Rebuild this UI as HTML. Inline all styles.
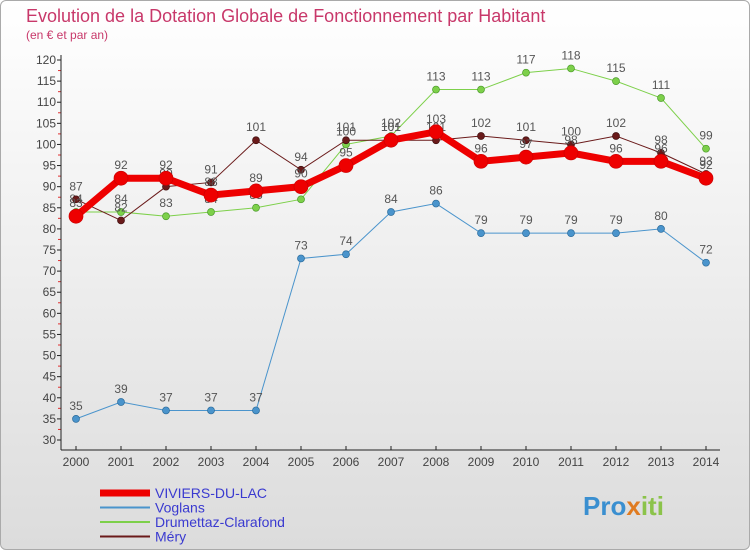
<!DOCTYPE html>
<html><head><meta charset="utf-8"><style>
body{margin:0;width:750px;height:550px;overflow:hidden;font-family:"Liberation Sans",sans-serif}
#wrap{position:absolute;left:0;top:0;width:748px;height:548px;border:1px solid #aaa;border-radius:6px;background:linear-gradient(#fff,#dcdcdc)}
</style></head><body>
<div id="wrap"></div>
<svg id="c" width="750" height="550" style="position:absolute;left:0;top:0">
<text x="26" y="22" font-size="18" fill="#c8386a">Evolution de la Dotation Globale de Fonctionnement par Habitant</text>
<text x="26" y="39" font-size="12" fill="#c8386a">(en € et par an)</text>
<g id="grid"></g><g id="series"></g><g id="legend"></g>
<text x="583" y="515" font-size="26" font-weight="bold" fill="#3a8fd0">Pro<tspan fill="#e07b20">x</tspan><tspan fill="#8bc34a">iti</tspan></text>
</svg>
<script>
const years=[2000,2001,2002,2003,2004,2005,2006,2007,2008,2009,2010,2011,2012,2013,2014];
const viviers=[83,92,92,88,89,90,95,101,103,96,97,98,96,96,92];
const voglans=[35,39,37,37,37,73,74,84,86,79,79,79,79,80,72];
const drumettaz=[84,84,83,84,85,87,100,102,113,113,117,118,115,111,99];
const mery=[87,82,90,91,101,94,101,101,101,102,101,100,102,98,93];
const yTicks=[30,35,40,45,50,55,60,65,70,75,80,85,90,95,100,105,110,115,120];
const NS="http://www.w3.org/2000/svg";
const x=i=>76+i*45, y=v=>440-(v-30)*380/90;
function mk(t,a,p){const e=document.createElementNS(NS,t);for(const k in a)e.setAttribute(k,a[k]);p.appendChild(e);return e;}
const g=document.getElementById('grid');
yTicks.forEach(v=>{
 const l=mk('line',{x1:57,x2:61,y1:y(v),y2:y(v),stroke:'#222'},g);
 
 
 if(v<120){const m=mk('line',{x1:58,x2:61,y1:y(v+2.5),y2:y(v+2.5),stroke:'#e03030'},g);
 
 }
 const t=mk('text',{x:56,y:y(v)+4,'font-size':12,'text-anchor':'end',fill:'#444'},g);t.textContent=v;
 
 
});
mk('line',{x1:61,x2:61,y1:55,y2:450,stroke:'#222'},g);
mk('line',{x1:61,x2:720,y1:450,y2:450,stroke:'#222'},g);
years.forEach((yr,i)=>{
 mk('line',{x1:x(i),x2:x(i),y1:446,y2:450,stroke:'#222'},g);
 const t=mk('text',{x:x(i),y:466,'font-size':12,'text-anchor':'middle',fill:'#444'},g);t.textContent=yr;
 
 
});
const s=document.getElementById('series');
function draw(data,color,w,r,name,stroke){
 const p=mk('polyline',{points:data.map((v,i)=>x(i)+','+y(v)).join(' '),fill:'none',stroke:color,'stroke-width':w},s);
 
 
 data.forEach((v,i)=>{
  const c=mk('circle',{cx:x(i),cy:y(v),r:r,fill:color,stroke:stroke,'stroke-width':0.7},s);
  
  
  const t=mk('text',{x:x(i),y:y(v)-9,'font-size':12,'text-anchor':'middle',fill:'#555'},s);t.textContent=v;
  
  
 });
}
draw(voglans,'#4a94cc',1,3.5,'voglans','#2a6a9a');
draw(drumettaz,'#7dd04a',1,3.5,'drumettaz','#4a9a2a');
draw(mery,'#6a1a1a',1,3.5,'mery','#401010');
draw(viviers,'#ee0000',7,7,'viviers','#c00');
const lg=document.getElementById('legend');
[['VIVIERS-DU-LAC','#ee0000',7],['Voglans','#4a94cc',2],['Drumettaz-Clarafond','#7dd04a',2],['Méry','#6a1a1a',2]].forEach((e,i)=>{
 const yy=493+i*14.5;
 const l=mk('line',{x1:100,x2:150,y1:yy,y2:yy,stroke:e[1],'stroke-width':e[2]},lg);
 
 
 const t=mk('text',{x:155,y:yy+5,'font-size':14,fill:'#3a3ad0'},lg);t.textContent=e[0];
 
 
});
</script>
</body></html>
